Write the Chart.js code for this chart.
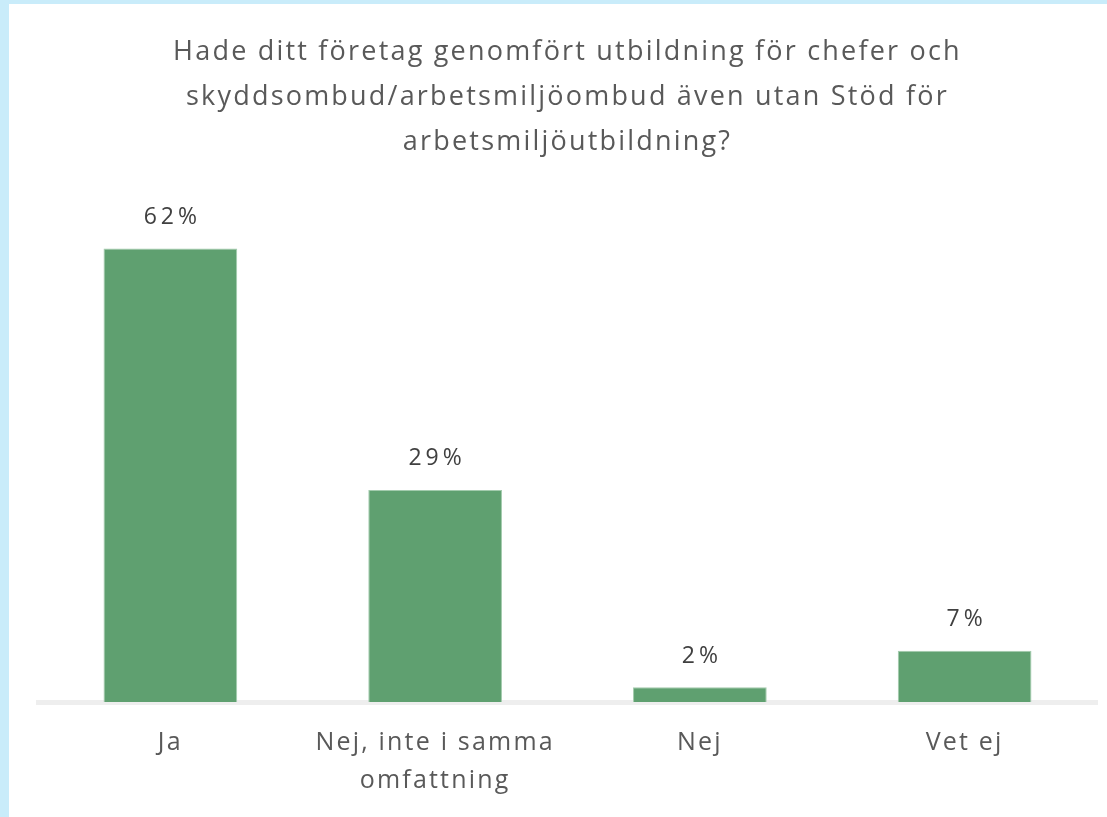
<!DOCTYPE html>
<html lang="sv">
  <head>
    <meta charset="UTF-8" />
    <title>Stöd för arbetsmiljöutbildning</title>
    <style>
      html, body { margin: 0; padding: 0; background: #c9ecfa; overflow: hidden; }
      .chart-view { position: absolute; left: 9px; top: 4px; width: 1098px; height: 820px; background: #ffffff; }
    </style>
  </head>
  <body>
    <div class="chart-view">
      <canvas id="chart"></canvas>
    </div>

    <script src="https://cdn.jsdelivr.net/npm/chart.js@4.4.1/dist/chart.umd.min.js"></script>
    <script>
      //data
      const titleLines = [
        'Hade ditt företag genomfört utbildning för chefer och',
        'skyddsombud/arbetsmiljöombud även utan Stöd för',
        'arbetsmiljöutbildning?'
      ];
      const labels = ['Ja', ['Nej, inte i samma', 'omfattning'], 'Nej', 'Vet ej'];
      const values = [62, 29, 2, 7];

      const FONT = "'Open Sans'";
      const SPACING = '2.2px';

      // the original text is set with wide tracking
      const tracking = {
        id: 'tracking',
        beforeUpdate(chart) { chart.ctx.letterSpacing = SPACING; },
        beforeDraw(chart) { chart.ctx.letterSpacing = SPACING; }
      };

      // draws the % above each bar
      const valueLabels = {
        id: 'valueLabels',
        afterDatasetsDraw(chart) {
          const ctx = chart.ctx;
          const meta = chart.getDatasetMeta(0);
          ctx.save();
          ctx.font = '23px ' + FONT;
          ctx.letterSpacing = '4px';
          ctx.fillStyle = '#404040';
          ctx.textAlign = 'center';
          ctx.textBaseline = 'middle';
          meta.data.forEach((bar, i) => {
            ctx.fillText(values[i] + '%', bar.x + 2, bar.y - 31);
          });
          ctx.restore();
        }
      };

      //config
      const config = {
        type: 'bar',
        data: {
          labels: labels,
          datasets: [
            {
              data: values,
              backgroundColor: '#5fa070',
              borderColor: '#a3cbad',
              borderWidth: 1,
              barPercentage: 0.505,
              categoryPercentage: 1
            }
          ]
        },
        options: {
          responsive: true,
          maintainAspectRatio: false,
          animation: false,
          layout: {
            padding: { left: 29, right: 10, top: 0, bottom: 2 }
          },
          plugins: {
            legend: { display: false },
            tooltip: { enabled: false },
            title: {
              display: true,
              fullSize: false,
              text: titleLines,
              color: '#595959',
              font: { family: FONT, size: 27, weight: 'normal', lineHeight: 1.667 },
              padding: { top: 26, bottom: 25 }
            }
          },
          scales: {
            x: {
              grid: { display: false, drawTicks: false },
              border: { display: true, color: '#eeeeee', width: 5 },
              ticks: {
                color: '#595959',
                padding: 22,
                font: { family: FONT, size: 25, lineHeight: 1.52 }
              }
            },
            y: {
              display: false,
              min: 0,
              max: 70
            }
          }
        },
        plugins: [tracking, valueLabels]
      };

      //init
      const ctx = document.getElementById('chart');
      const chart = new Chart(ctx, config);
    </script>
  </body>
</html>
